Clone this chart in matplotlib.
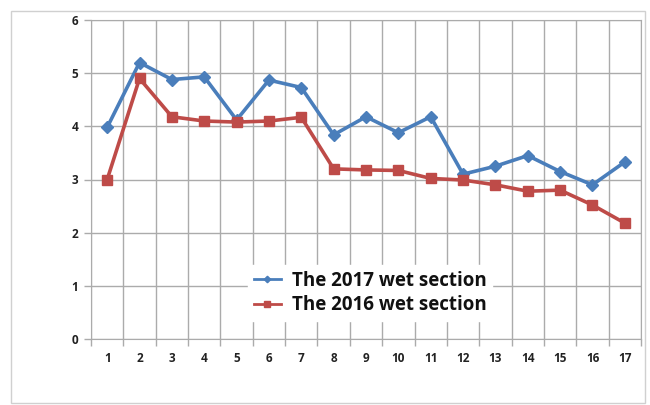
import matplotlib
matplotlib.use("Agg")
import matplotlib.pyplot as plt
from matplotlib.patches import Rectangle

plt.rcParams['font.family'] = ['Open Sans', 'DejaVu Sans']

sections = list(range(1, 18))
wet_2017 = [3.98, 5.20, 4.88, 4.93, 4.12, 4.87, 4.73, 3.84, 4.18, 3.88, 4.18,
            3.10, 3.25, 3.45, 3.15, 2.90, 3.33]
wet_2016 = [3.00, 4.90, 4.18, 4.10, 4.08, 4.10, 4.17, 3.20, 3.18, 3.17, 3.02,
            2.99, 2.90, 2.78, 2.80, 2.52, 2.18]
series_names = ["The 2017 wet section", "The 2016 wet section"]
y_ticks = [0, 1, 2, 3, 4, 5, 6]

fig = plt.figure(figsize=(6.5, 4.05), dpi=100)
fig.patch.set_facecolor('white')

# outer chart frame
fig.add_artist(Rectangle((11 / 650, 1 - 403 / 405), (645 - 11) / 650, (403 - 11) / 405,
                         transform=fig.transFigure, fill=False,
                         edgecolor='#d0d0d0', linewidth=1.0))

ax = fig.add_axes([91 / 650, 1 - 339 / 405, (641 - 91) / 650, (339 - 20) / 405])

grid_c = '#ababab'
ax.set_xlim(0.5, 17.5)
ax.set_ylim(0, 6)
ax.set_yticks(y_ticks)
ax.set_xticks(sections)
ax.set_xticks([i + 0.5 for i in range(0, 18)], minor=True)
ax.grid(True, which='major', axis='y', color=grid_c, linewidth=1.0)
ax.grid(True, which='minor', axis='x', color=grid_c, linewidth=1.0)
ax.tick_params(axis='x', which='major', length=0, pad=9)
ax.tick_params(axis='x', which='minor', length=5, color=grid_c, width=1.0)
ax.tick_params(axis='y', length=5, color=grid_c, width=1.0, pad=4)
for lbl in ax.get_xticklabels() + ax.get_yticklabels():
    lbl.set_fontweight('bold')
    lbl.set_fontsize(8.5)
    lbl.set_color('#222222')
for s in ax.spines.values():
    s.set_color(grid_c)
ax.set_axisbelow(True)

blue = '#4a7ebb'
red = '#be4b48'
ax.plot(sections, wet_2017, color=blue, linewidth=2.6, marker='D', markersize=6,
        label=series_names[0], zorder=3)
ax.plot(sections, wet_2016, color=red, linewidth=2.6, marker='s', markersize=7.5,
        label=series_names[1], zorder=3)

leg = ax.legend(loc='upper left', bbox_to_anchor=((248 - 91) / 550, (339 - 265) / 319),
                frameon=True, fancybox=False, framealpha=1.0, edgecolor='white',
                prop={'weight': 'bold', 'size': 13.5}, handlelength=1.45,
                handletextpad=0.6, labelspacing=0.25, borderpad=0.3,
                borderaxespad=0, markerscale=0.55)
for h in leg.get_lines():
    h.set_linewidth(2.0)
for t in leg.get_texts():
    t.set_color('#111111')

fig.savefig('out.png', dpi=100)
